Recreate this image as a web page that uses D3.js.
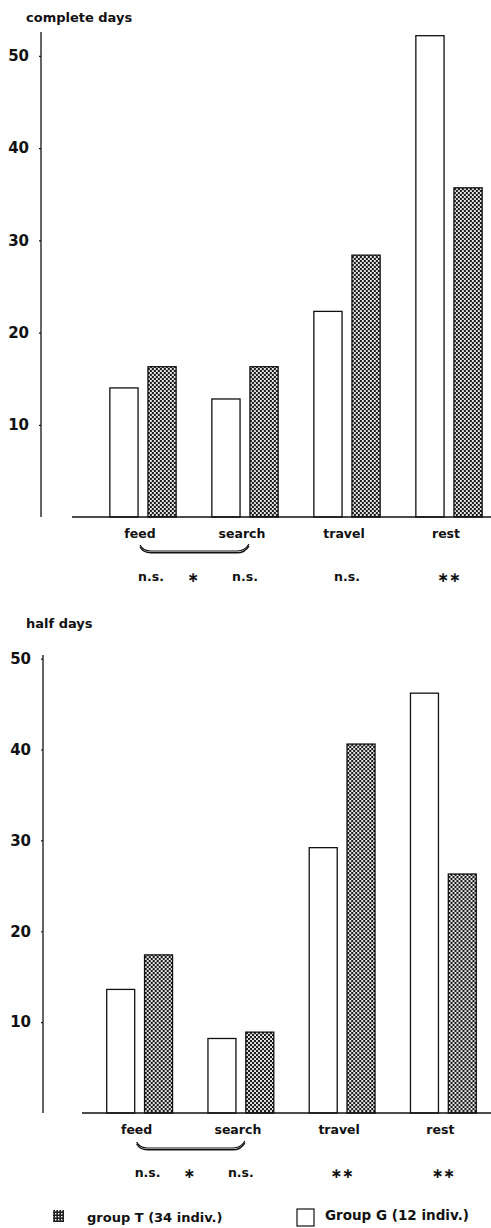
<!DOCTYPE html>
<html>
<head>
<meta charset="utf-8">
<script src="https://cdn.jsdelivr.net/npm/d3@7"></script>
<style>
  body { margin: 0; background: #fff; }
  svg text { font-family: "DejaVu Sans", "Liberation Sans", sans-serif; font-weight: bold; fill: #111; }
</style>
</head>
<body>
<svg id="chart"></svg>
<script>
const categories = ["feed", "search", "travel", "rest"];
const groups = ["G", "T"];

// complete days
const completeG = [14.0, 12.8, 22.3, 52.2];
const completeT = [16.3, 16.3, 28.4, 35.7];
const completeSig = ["n.s.", "n.s.", "n.s.", "**"];

// half days
const halfG = [13.6, 8.2, 29.2, 46.2];
const halfT = [17.4, 8.9, 40.6, 26.3];
const halfSig = ["n.s.", "n.s.", "**", "**"];

const bracketSig = "*";
const yTicks = [10, 20, 30, 40, 50];
const legendLabels = { T: "group T (34 indiv.)", G: "Group G (12 indiv.)" };

const width = 491, height = 1228;
const svg = d3.select("#chart").attr("width", width).attr("height", height);

// dotted screen used for group T bars
const defs = svg.append("defs");
const dots = defs.append("pattern")
  .attr("id", "dots")
  .attr("patternUnits", "userSpaceOnUse")
  .attr("width", 4).attr("height", 4);
dots.append("rect").attr("width", 4).attr("height", 4).attr("fill", "#1a1a1a");
dots.append("circle").attr("cx", 1).attr("cy", 1).attr("r", 1.05).attr("fill", "#fff");
dots.append("circle").attr("cx", 3).attr("cy", 3).attr("r", 1.05).attr("fill", "#fff");

const grid = defs.append("pattern")
  .attr("id", "grid")
  .attr("patternUnits", "userSpaceOnUse")
  .attr("width", 3).attr("height", 3);
grid.append("rect").attr("width", 3).attr("height", 3).attr("fill", "#222");
grid.append("rect").attr("x", 1).attr("y", 1).attr("width", 1.4).attr("height", 1.4).attr("fill", "#fff");

// asterisks drawn as text, "*" shown as a centred star glyph
const star = s => s.replace(/\*/g, "\u2217");

function drawPanel(cfg) {
  const g = svg.append("g");
  const data = categories.map((c, i) => ({ cat: c, G: cfg.G[i], T: cfg.T[i], sig: cfg.sig[i] }));

  const y = d3.scaleLinear().domain([0, cfg.yMax]).range([cfg.y0, cfg.yTop]);
  const x = d3.scaleBand().domain(categories).range(cfg.xRange)
    .paddingInner(0.35).paddingOuter(0.175);
  const xs = d3.scaleBand().domain(groups).range([0, x.bandwidth()]).paddingInner(0.26);

  g.append("text")
    .attr("x", cfg.titleX).attr("y", cfg.titleY)
    .attr("font-size", 13)
    .text(cfg.title);

  // y axis
  const yAxis = g.append("g")
    .attr("transform", `translate(${cfg.axisX},0)`)
    .call(d3.axisLeft(y).tickValues(yTicks).tickSize(2).tickFormat(d3.format("d")));
  yAxis.select(".domain").remove();
  yAxis.selectAll(".tick line").attr("stroke", "#111").attr("stroke-width", 1.2);
  yAxis.selectAll(".tick text")
    .attr("x", -12)
    .attr("font-size", 15)
    .attr("font-family", "DejaVu Sans, Liberation Sans, sans-serif")
    .attr("font-weight", "bold")
    .attr("fill", "#111");
  g.append("line")
    .attr("x1", cfg.axisX).attr("x2", cfg.axisX)
    .attr("y1", y(cfg.yMax)).attr("y2", y(0))
    .attr("stroke", "#111").attr("stroke-width", 1.3);

  // bars
  const bars = g.selectAll("g.cat").data(data).join("g")
    .attr("class", "cat")
    .attr("transform", d => `translate(${x(d.cat)},0)`);
  bars.selectAll("rect")
    .data(d => groups.map(k => ({ k, v: d[k] })))
    .join("rect")
    .attr("x", d => xs(d.k))
    .attr("width", xs.bandwidth())
    .attr("y", d => y(d.v))
    .attr("height", d => y(0) - y(d.v))
    .attr("fill", d => d.k === "T" ? "url(#dots)" : "#fff")
    .attr("stroke", "#111")
    .attr("stroke-width", 1.3);

  // baseline
  g.append("line")
    .attr("x1", cfg.baseX).attr("x2", width)
    .attr("y1", y(0)).attr("y2", y(0))
    .attr("stroke", "#111").attr("stroke-width", 1.5);

  // category labels
  g.selectAll("text.cat").data(data).join("text")
    .attr("class", "cat")
    .attr("x", d => x(d.cat) + x.bandwidth() / 2 - 3)
    .attr("y", y(0) + 21)
    .attr("text-anchor", "middle")
    .attr("font-size", 12.5)
    .text(d => d.cat);

  // bracket between feed and search (double rule)
  const bx0 = x("feed") + x.bandwidth() / 2;
  const bx1 = x("search") + x.bandwidth() / 2;
  const by = y(0) + cfg.bracketDy;
  const bracket = (dy) =>
    `M${bx0 - 3},${by - 6 + dy} Q${bx0},${by + dy} ${bx0 + 8},${by + dy} L${bx1 - 8},${by + dy} Q${bx1},${by + dy} ${bx1 + 4},${by - 7 + dy}`;
  g.append("path").attr("d", bracket(0))
    .attr("fill", "none").attr("stroke", "#111").attr("stroke-width", 1.2);
  g.append("path").attr("d", bracket(1.8))
    .attr("fill", "none").attr("stroke", "#111").attr("stroke-width", 1.4);

  // significance marks
  const sy = y(0) + cfg.sigDy;
  g.selectAll("text.sig").data(data).join("text")
    .attr("class", "sig")
    .attr("x", d => x(d.cat) + x.bandwidth() / 2 + (d.cat === "feed" ? 8 : 0))
    .attr("y", d => d.sig === "n.s." ? sy : sy + 1)
    .attr("text-anchor", "middle")
    .attr("font-size", d => d.sig === "n.s." ? 12.5 : 14)
    .attr("font-weight", d => d.sig === "n.s." ? "bold" : "normal")
    .text(d => star(d.sig));
  g.append("text")
    .attr("x", (bx0 + bx1) / 2 - 1)
    .attr("y", sy + 1)
    .attr("text-anchor", "middle")
    .attr("font-size", 14)
    .attr("font-weight", "normal")
    .text(star(bracketSig));
}

drawPanel({
  title: "complete days", titleX: 26, titleY: 22,
  G: completeG, T: completeT, sig: completeSig,
  yMax: 52.6, y0: 517, yTop: 32, axisX: 41, baseX: 72,
  xRange: [92, 500], bracketDy: 34, sigDy: 64
});

drawPanel({
  title: "half days", titleX: 26, titleY: 628,
  G: halfG, T: halfT, sig: halfSig,
  yMax: 50.4, y0: 1113, yTop: 655, axisX: 43, baseX: 82,
  xRange: [89, 494], bracketDy: 35, sigDy: 64
});

// legend
const legend = svg.append("g");
legend.append("rect")
  .attr("x", 53).attr("y", 1210).attr("width", 11).attr("height", 12)
  .attr("fill", "url(#grid)");
legend.append("text")
  .attr("x", 87).attr("y", 1222).attr("font-size", 13)
  .text(legendLabels.T);
legend.append("rect")
  .attr("x", 297).attr("y", 1209).attr("width", 17).attr("height", 17)
  .attr("fill", "#fff").attr("stroke", "#111").attr("stroke-width", 1.2);
legend.append("text")
  .attr("x", 325).attr("y", 1220).attr("font-size", 13.5)
  .text(legendLabels.G);
</script>
</body>
</html>
